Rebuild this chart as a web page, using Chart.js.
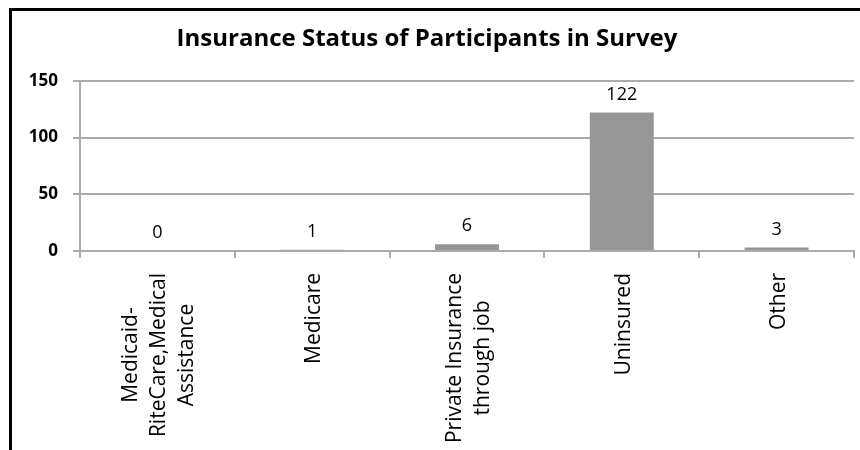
<!DOCTYPE html>
<html>
<head>
<meta charset="utf-8">
<script src="https://cdn.jsdelivr.net/npm/chart.js@4"></script>
<style>
  html, body { margin: 0; padding: 0; background: #fff; }
  #wrap { position: relative; width: 860px; height: 450px; overflow: hidden; }
  #frame { position: absolute; left: 9px; top: 8px; right: -10px; bottom: -10px; border-left: 3px solid #000; border-top: 3px solid #000; }
</style>
</head>
<body>
<div id="wrap">
  <canvas id="insuranceChart" width="860" height="450"></canvas>
  <div id="frame"></div>
</div>
<script>
// data
const categories = [
    ["Medicaid-", "RiteCare,Medical", "Assistance"],
    ["Medicare"],
    ["Private Insurance", "through job"],
    ["Uninsured"],
    ["Other"]
];
const participants = [0, 1, 6, 122, 3];
const yTicks = [0, 50, 100, 150];

const gridGray = '#ababab';
const fontName = '"Open Sans"';

// value labels above bars + centred, rotated category labels (Excel style)
const labelPlugin = {
    id: 'barLabels',
    afterDatasetsDraw(chart) {
        const ctx = chart.ctx;
        const meta = chart.getDatasetMeta(0);
        ctx.save();
        ctx.fillStyle = '#000';
        ctx.textAlign = 'center';
        ctx.font = '18px ' + fontName;
        ctx.textBaseline = 'alphabetic';
        meta.data.forEach((bar, i) => {
            ctx.fillText(String(participants[i]), bar.x, bar.y - 13);
        });

        const xScale = chart.scales.x;
        const top = xScale.top + 22;
        const lineH = 28;
        ctx.font = '21px ' + fontName;
        ctx.textBaseline = 'middle';
        categories.forEach((lines, i) => {
            const cx = xScale.getPixelForTick(i);
            const maxW = Math.max(...lines.map(l => ctx.measureText(l).width));
            lines.forEach((line, j) => {
                const x = cx + 2 + (j - (lines.length - 1) / 2) * lineH;
                ctx.save();
                ctx.translate(x, top + maxW / 2);
                ctx.rotate(-Math.PI / 2);
                ctx.fillText(line, 0, 0);
                ctx.restore();
            });
        });
        ctx.restore();
    }
};

new Chart(document.getElementById('insuranceChart'), {
    type: 'bar',
    data: {
        labels: categories.map(c => c.join(' ')),
        datasets: [{
            data: participants,
            backgroundColor: '#969696',
            barPercentage: 0.413,
            categoryPercentage: 1
        }]
    },
    options: {
        responsive: false,
        animation: false,
        layout: { padding: { top: 0, right: 6, left: 0, bottom: 0 } },
        plugins: {
            legend: { display: false },
            tooltip: { enabled: false },
            title: {
                display: true,
                text: 'Insurance Status of Participants in Survey',
                color: '#000',
                font: { family: fontName, size: 24, weight: 'bold' },
                padding: { top: 25, bottom: 27 }
            }
        },
        scales: {
            x: {
                afterFit(scale) { scale.height = 199; },
                ticks: { display: false },
                grid: { offset: true, drawOnChartArea: false, color: gridGray, lineWidth: 2, tickLength: 7 },
                border: { color: gridGray, width: 2 }
            },
            y: {
                min: 0,
                max: yTicks[yTicks.length - 1],
                afterFit(scale) { scale.width = 80; },
                afterBuildTicks(scale) { scale.ticks = yTicks.map(v => ({ value: v })); },
                ticks: {
                    color: '#000',
                    padding: 15,
                    font: { family: fontName, size: 17, weight: 'bold' }
                },
                grid: { color: gridGray, lineWidth: 2, tickLength: 7 },
                border: { color: gridGray, width: 2 }
            }
        }
    },
    plugins: [labelPlugin]
});
</script>
</body>
</html>
